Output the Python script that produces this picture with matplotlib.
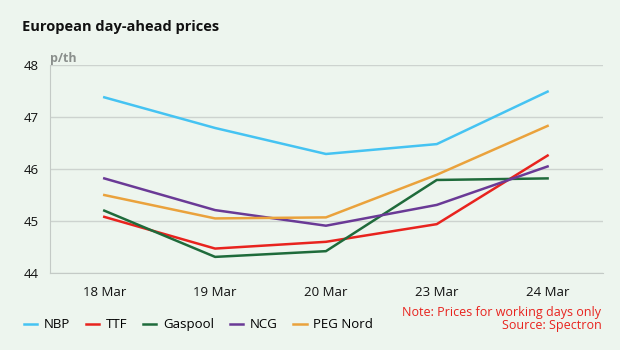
import matplotlib.pyplot as plt

plt.rcParams['font.family'] = ['Open Sans', 'DejaVu Sans']

days = ["18 Mar", "19 Mar", "20 Mar", "23 Mar", "24 Mar"]
nbp = [47.38, 46.79, 46.29, 46.48, 47.49]
ttf = [45.08, 44.47, 44.60, 44.94, 46.26]
gaspool = [45.20, 44.31, 44.42, 45.79, 45.82]
ncg = [45.82, 45.21, 44.91, 45.31, 46.05]
peg_nord = [45.50, 45.05, 45.07, 45.89, 46.83]

series = [("NBP", nbp, "#45c3f2"), ("TTF", ttf, "#e8231e"),
          ("Gaspool", gaspool, "#1f6b3b"), ("NCG", ncg, "#6a3a96"),
          ("PEG Nord", peg_nord, "#eaa23c")]

bg = "#edf5ee"
fig = plt.figure(figsize=(6.2, 3.5), dpi=100, facecolor=bg)
ax = fig.add_axes([0.0806, 0.22, 0.892, 0.594], facecolor=bg)

x = range(len(days))
for name, vals, col in series:
    ax.plot(x, vals, color=col, linewidth=1.8, label=name)

ax.set_xlim(-0.49, 4.5)
ax.set_ylim(44, 48)
ax.set_yticks([44, 45, 46, 47, 48])
ax.set_xticks(list(x))
ax.set_xticklabels(days)
ax.grid(axis="y", color="#cdd3cf", linewidth=1)
ax.set_axisbelow(True)
for s in ["top", "right"]:
    ax.spines[s].set_visible(False)
for s in ["left", "bottom"]:
    ax.spines[s].set_color("#c4cac6")
ax.tick_params(length=0, labelsize=9.5, colors="#111111")
ax.tick_params(axis="x", pad=9)
ax.tick_params(axis="y", pad=8)

fig.text(0.035, 0.91, "European day-ahead prices", fontsize=10.5, fontweight="bold", color="#111111")
fig.text(0.081, 0.822, "p/th", fontsize=9, fontweight="bold", color="#8a8f8c")

fig.legend(loc="lower left", bbox_to_anchor=(0.02, 0.02), ncol=5, frameon=False,
           fontsize=9.5, handlelength=1.0, handletextpad=0.5, columnspacing=1.2)

fig.text(0.97, 0.05, "Note: Prices for working days only\nSource: Spectron", ha="right",
         va="bottom", fontsize=9, color="#e8231e", linespacing=1.05)

fig.savefig("out.png", dpi=100, facecolor=bg)
